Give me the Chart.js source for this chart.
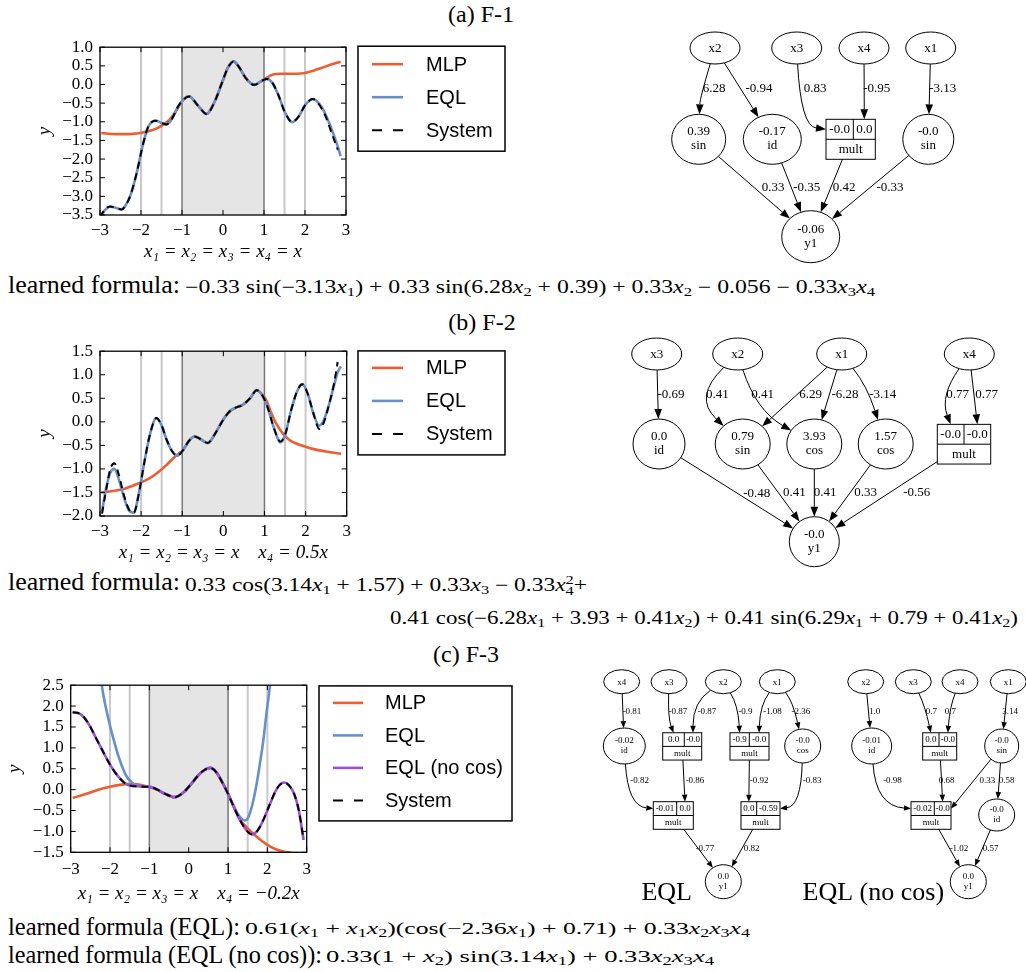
<!DOCTYPE html>
<html lang="en">
<head>
<meta charset="UTF-8">
<title>EQL vs MLP extrapolation</title>
<script src="https://cdn.jsdelivr.net/npm/chart.js"></script>
<style>
  body { margin: 0; background: #fff; }
  #page { position: relative; width: 1026px; height: 972px; overflow: hidden; font-family: 'Liberation Serif', 'Times New Roman', serif; color: #000; }
  #page canvas { position: absolute; }
  .txt { position: absolute; line-height: 1; white-space: nowrap; font-family: 'Liberation Serif', 'Times New Roman', serif; transform-origin: left top; }
  .cap { font-size: 24px; width: 120px; text-align: center; }
  .lab { font-size: 25px; }
  .math { font-size: 18px; }
  .math sub { font-size: 70%; vertical-align: -0.25em; line-height: 0; }
  .ss { display: inline-block; font-size: 70%; line-height: 0.9; vertical-align: -0.35em; }
  .ss span { display: block; }
</style>
</head>
<body>
<div id="page">
  <div class="txt cap" style="left:421px; top:2px">(a) F-1</div>
  <div class="txt cap" style="left:422px; top:310px">(b) F-2</div>
  <div class="txt cap" style="left:406px; top:642px">(c) F-3</div>

  <canvas id="f1" width="485" height="237" style="left:30px; top:30px"></canvas>
  <canvas id="f2" width="485" height="234" style="left:30px; top:334px"></canvas>
  <canvas id="f3" width="520" height="241" style="left:0px; top:668px"></canvas>
  <canvas id="g1" width="426" height="270" style="left:600px; top:0px"></canvas>
  <canvas id="g2" width="426" height="240" style="left:600px; top:330px"></canvas>
  <canvas id="g3" width="446" height="270" style="left:580px; top:640px"></canvas>

  <div class="txt lab" data-w="172" style="left:8px; top:272px">learned formula:</div>
  <div class="txt math" data-w="690" style="left:185px; top:278px">−0.33 sin(−3.13<i>x</i><sub>1</sub>) + 0.33 sin(6.28<i>x</i><sub>2</sub> + 0.39) + 0.33<i>x</i><sub>2</sub> − 0.056 − 0.33<i>x</i><sub>3</sub><i>x</i><sub>4</sub></div>

  <div class="txt lab" data-w="172" style="left:8px; top:569px">learned formula:</div>
  <div class="txt math" data-w="402" style="left:185px; top:575px">0.33 cos(3.14<i>x</i><sub>1</sub> + 1.57) + 0.33<i>x</i><sub>3</sub> − 0.33<i>x</i><span class="ss"><span>2</span><span>4</span></span>+</div>
  <div class="txt math" data-w="628" style="left:390px; top:609px">0.41 cos(−6.28<i>x</i><sub>1</sub> + 3.93 + 0.41<i>x</i><sub>2</sub>) + 0.41 sin(6.29<i>x</i><sub>1</sub> + 0.79 + 0.41<i>x</i><sub>2</sub>)</div>

  <div class="txt lab" data-w="232" style="left:8px; top:914px">learned formula (EQL):</div>
  <div class="txt math" data-w="505" style="left:245px; top:920px; font-size:17px">0.61(<i>x</i><sub>1</sub> + <i>x</i><sub>1</sub><i>x</i><sub>2</sub>)(cos(−2.36<i>x</i><sub>1</sub>) + 0.71) + 0.33<i>x</i><sub>2</sub><i>x</i><sub>3</sub><i>x</i><sub>4</sub></div>
  <div class="txt lab" data-w="314" style="left:8px; top:942px">learned formula (EQL (no cos)):</div>
  <div class="txt math" data-w="388" style="left:326px; top:948px; font-size:17px">0.33(1 + <i>x</i><sub>2</sub>) sin(3.14<i>x</i><sub>1</sub>) + 0.33<i>x</i><sub>2</sub><i>x</i><sub>3</sub><i>x</i><sub>4</sub></div>
</div>

<script>
// ---------- F-1 ----------
const f1SysX = [-3.0, -2.9, -2.75, -2.6, -2.48, -2.38, -2.25, -2.1, -1.95, -1.83, -1.65, -1.5, -1.38, -1.25, -1.1, -0.98, -0.83, -0.6, -0.4, -0.2, 0.0, 0.12, 0.26, 0.4, 0.55, 0.76, 0.95, 1.07, 1.2, 1.35, 1.5, 1.69, 1.85, 2.0, 2.19, 2.35, 2.5, 2.65, 2.8];
const f1SysY = [-3.56, -3.38, -3.27, -3.31, -3.35, -3.25, -2.95, -2.35, -1.6, -1.15, -0.97, -1.03, -1.07, -0.93, -0.6, -0.42, -0.32, -0.58, -0.79, -0.45, 0.12, 0.45, 0.62, 0.45, 0.18, -0.01, 0.1, 0.15, 0.05, -0.28, -0.72, -1.01, -0.85, -0.56, -0.39, -0.55, -0.85, -1.3, -1.75];
const f1EqlX = [-2.96, -2.9, -2.75, -2.6, -2.48, -2.38, -2.25, -2.1, -1.95, -1.83, -1.65, -1.5, -1.38, -1.25, -1.1, -0.98, -0.83, -0.6, -0.4, -0.2, 0.0, 0.12, 0.26, 0.4, 0.55, 0.76, 0.95, 1.07, 1.2, 1.35, 1.5, 1.69, 1.85, 2.0, 2.19, 2.35, 2.5, 2.65, 2.78, 2.87];
const f1EqlY = [-3.52, -3.4, -3.28, -3.31, -3.35, -3.25, -2.95, -2.35, -1.6, -1.15, -0.97, -1.03, -1.07, -0.93, -0.6, -0.42, -0.32, -0.58, -0.79, -0.45, 0.12, 0.45, 0.62, 0.45, 0.18, -0.01, 0.1, 0.15, 0.05, -0.28, -0.72, -1.01, -0.85, -0.56, -0.39, -0.52, -0.8, -1.2, -1.6, -1.92];
const f1MlpX = [-2.97, -2.6, -2.3, -2.05, -1.8, -1.6, -1.45, -1.3, -1.15, -1.0, -0.83, -0.6, -0.4, -0.2, 0.0, 0.12, 0.26, 0.4, 0.55, 0.76, 0.95, 1.05, 1.2, 1.4, 1.6, 1.8, 2.0, 2.2, 2.4, 2.6, 2.87];
const f1MlpY = [-1.3, -1.33, -1.33, -1.31, -1.25, -1.17, -1.07, -0.94, -0.72, -0.45, -0.32, -0.58, -0.79, -0.45, 0.12, 0.45, 0.62, 0.45, 0.18, -0.01, 0.1, 0.17, 0.26, 0.29, 0.29, 0.29, 0.31, 0.37, 0.44, 0.52, 0.61];

// ---------- F-2 ----------
const f2SysX = [-2.95, -2.85, -2.75, -2.65, -2.55, -2.42, -2.3, -2.18, -2.05, -1.92, -1.78, -1.63, -1.5, -1.38, -1.25, -1.12, -0.98, -0.85, -0.7, -0.55, -0.38, -0.2, 0.0, 0.15, 0.3, 0.47, 0.65, 0.81, 0.95, 1.08, 1.2, 1.3, 1.38, 1.5, 1.65, 1.78, 1.92, 2.05, 2.2, 2.33, 2.45, 2.58, 2.7, 2.78];
const f2SysY = [-1.95, -1.45, -1.0, -0.88, -1.1, -1.55, -1.85, -1.93, -1.5, -0.85, -0.25, 0.08, -0.08, -0.38, -0.62, -0.72, -0.6, -0.42, -0.31, -0.37, -0.45, -0.25, 0.05, 0.22, 0.3, 0.36, 0.5, 0.67, 0.56, 0.3, -0.05, -0.3, -0.42, -0.28, 0.25, 0.62, 0.8, 0.6, 0.15, -0.15, 0.0, 0.4, 0.85, 1.27];
const f2EqlX = [-2.95, -2.85, -2.75, -2.65, -2.55, -2.42, -2.3, -2.18, -2.05, -1.92, -1.78, -1.63, -1.5, -1.38, -1.25, -1.12, -0.98, -0.85, -0.7, -0.55, -0.38, -0.2, 0.0, 0.15, 0.3, 0.47, 0.65, 0.81, 0.95, 1.08, 1.2, 1.3, 1.38, 1.5, 1.65, 1.78, 1.92, 2.05, 2.2, 2.33, 2.45, 2.58, 2.7, 2.78, 2.86];
const f2EqlY = [-1.9, -1.4, -1.08, -1.0, -1.2, -1.6, -1.88, -1.93, -1.5, -0.85, -0.25, 0.08, -0.08, -0.38, -0.62, -0.72, -0.6, -0.42, -0.31, -0.37, -0.45, -0.25, 0.05, 0.22, 0.3, 0.36, 0.5, 0.67, 0.56, 0.3, -0.05, -0.3, -0.44, -0.28, 0.25, 0.62, 0.8, 0.6, 0.15, -0.08, 0.05, 0.4, 0.8, 1.05, 1.18];
const f2MlpX = [-2.97, -2.7, -2.4, -2.1, -1.8, -1.6, -1.4, -1.2, -1.05, -0.98, -0.85, -0.7, -0.55, -0.38, -0.2, 0.0, 0.15, 0.3, 0.47, 0.65, 0.81, 0.95, 1.05, 1.15, 1.3, 1.45, 1.6, 1.8, 2.0, 2.2, 2.5, 2.86];
const f2MlpY = [-1.5, -1.47, -1.42, -1.32, -1.2, -1.08, -0.93, -0.76, -0.65, -0.6, -0.42, -0.31, -0.37, -0.45, -0.25, 0.05, 0.22, 0.3, 0.36, 0.5, 0.67, 0.58, 0.45, 0.22, -0.06, -0.25, -0.38, -0.47, -0.53, -0.58, -0.63, -0.68];

// ---------- F-3 ----------
const f3SysX = [-2.95, -2.8, -2.65, -2.5, -2.35, -2.2, -2.05, -1.9, -1.75, -1.6, -1.45, -1.3, -1.1, -0.95, -0.8, -0.6, -0.35, -0.15, 0.05, 0.25, 0.4, 0.55, 0.7, 0.85, 1.0, 1.15, 1.3, 1.45, 1.6, 1.75, 1.9, 2.05, 2.2, 2.32, 2.43, 2.55, 2.68, 2.8, 2.92];
const f3SysY = [1.85, 1.83, 1.72, 1.5, 1.22, 0.95, 0.68, 0.45, 0.27, 0.14, 0.09, 0.08, 0.07, 0.06, 0.0, -0.1, -0.18, -0.08, 0.12, 0.35, 0.47, 0.52, 0.42, 0.18, -0.1, -0.42, -0.72, -0.95, -1.07, -0.98, -0.72, -0.38, -0.05, 0.12, 0.17, 0.1, -0.1, -0.5, -1.2];
const f3NoCosX = [-2.95, -2.8, -2.65, -2.5, -2.35, -2.2, -2.05, -1.9, -1.75, -1.6, -1.45, -1.3, -1.1, -0.95, -0.8, -0.6, -0.35, -0.15, 0.05, 0.25, 0.4, 0.55, 0.7, 0.85, 1.0, 1.15, 1.3, 1.45, 1.6, 1.75, 1.9, 2.05, 2.2, 2.32, 2.43, 2.55, 2.68, 2.8, 2.92];
const f3NoCosY = [1.85, 1.83, 1.72, 1.5, 1.22, 0.95, 0.68, 0.45, 0.27, 0.14, 0.09, 0.08, 0.07, 0.06, 0.0, -0.1, -0.18, -0.08, 0.12, 0.35, 0.47, 0.52, 0.42, 0.18, -0.1, -0.42, -0.72, -0.95, -1.07, -0.98, -0.72, -0.38, -0.05, 0.12, 0.17, 0.1, -0.1, -0.5, -1.2];
const f3EqlX = [-2.26, -2.21, -2.08, -1.92, -1.75, -1.58, -1.41, -1.25, -1.1, -0.95, -0.8, -0.6, -0.35, -0.15, 0.05, 0.25, 0.4, 0.55, 0.7, 0.85, 1.0, 1.15, 1.25, 1.35, 1.43, 1.52, 1.62, 1.72, 1.81, 1.9, 1.98, 2.07, 2.12];
const f3EqlY = [2.9, 2.5, 1.85, 1.24, 0.7, 0.32, 0.14, 0.09, 0.07, 0.06, 0.0, -0.1, -0.18, -0.08, 0.12, 0.35, 0.47, 0.52, 0.42, 0.18, -0.1, -0.4, -0.58, -0.7, -0.74, -0.65, -0.35, 0.1, 0.62, 1.2, 1.85, 2.5, 2.9];
const f3MlpX = [-2.95, -2.6, -2.3, -2.0, -1.7, -1.45, -1.3, -1.15, -1.0, -0.8, -0.6, -0.35, -0.15, 0.05, 0.25, 0.4, 0.55, 0.7, 0.85, 1.0, 1.15, 1.3, 1.45, 1.6, 1.8, 2.0, 2.2, 2.4, 2.6, 2.92];
const f3MlpY = [-0.2, -0.1, 0.0, 0.07, 0.12, 0.14, 0.13, 0.1, 0.06, 0.0, -0.1, -0.18, -0.08, 0.12, 0.35, 0.47, 0.52, 0.42, 0.18, -0.1, -0.42, -0.72, -0.88, -1.02, -1.18, -1.32, -1.42, -1.48, -1.51, -1.53];

// vertical guide lines (training domain is [-1, 1])
const lightLines = [-2, -1.5, 1.5, 2];
const domainEdges = [-1, 1];

const SERIF = "'Liberation Serif', serif";
const SANS = "'Liberation Sans', sans-serif";
const MLP_C = '#ee5c30', EQL_C = '#6790cb', NOCOS_C = '#9a50d8';

Chart.defaults.font.family = SERIF;
Chart.defaults.color = '#000';

function pts(xs, ys) { return xs.map((x, i) => ({ x: x, y: ys[i] })); }
function fmt(v, d) {
  const s = Math.abs(v) < 1e-9 ? (0).toFixed(d) : v.toFixed(d);
  return s.replace('-', '\u2212');
}
function seg(ctx, x1, y1, x2, y2) { ctx.beginPath(); ctx.moveTo(x1, y1); ctx.lineTo(x2, y2); ctx.stroke(); }

// band, guide lines, frame, inward ticks and boxed legend
function panelPlugin(lg) {
  return {
    id: 'panel',
    beforeDatasetsDraw(chart) {
      const { ctx, chartArea: a, scales: { x } } = chart;
      ctx.save();
      const l = x.getPixelForValue(-1), r = x.getPixelForValue(1);
      ctx.fillStyle = '#e5e5e5';
      ctx.fillRect(l, a.top, r - l, a.bottom - a.top);
      ctx.strokeStyle = '#c8c8c8'; ctx.lineWidth = 2;
      lightLines.forEach(v => { const p = x.getPixelForValue(v); seg(ctx, p, a.top, p, a.bottom); });
      ctx.strokeStyle = '#777'; ctx.lineWidth = 1.5;
      domainEdges.forEach(v => { const p = x.getPixelForValue(v); seg(ctx, p, a.top, p, a.bottom); });
      ctx.restore();
    },
    afterDatasetsDraw(chart) {
      const { ctx, chartArea: a, scales: { x, y } } = chart;
      ctx.save();
      ctx.strokeStyle = '#000'; ctx.lineWidth = 1;
      x.ticks.forEach(t => { const p = x.getPixelForValue(t.value); seg(ctx, p, a.bottom, p, a.bottom - 5); seg(ctx, p, a.top, p, a.top + 5); });
      y.ticks.forEach(t => { const p = y.getPixelForValue(t.value); seg(ctx, a.left, p, a.left + 5, p); seg(ctx, a.right, p, a.right - 5, p); });
      ctx.lineWidth = 1.3;
      ctx.strokeRect(a.left, a.top, a.right - a.left, a.bottom - a.top);
      ctx.restore();
    },
    afterDraw(chart) {
      const { ctx, chartArea: a } = chart;
      const bx = a.right + lg.dx, by = a.top + lg.dy;
      ctx.save();
      ctx.strokeStyle = '#000'; ctx.lineWidth = 1.5;
      ctx.strokeRect(bx, by, lg.w, lg.h);
      ctx.font = '20px ' + SANS; ctx.textBaseline = 'middle'; ctx.textAlign = 'left';
      chart.data.datasets.forEach((ds, i) => {
        const yy = by + lg.rowTop + i * lg.rowStep;
        ctx.strokeStyle = ds.borderColor; ctx.lineWidth = ds.borderWidth;
        ctx.setLineDash(ds.borderDash.length ? [10, 11] : []);
        seg(ctx, bx + lg.lineX, yy, bx + lg.lineX + lg.lineLen, yy);
        ctx.setLineDash([]);
        ctx.fillStyle = '#000';
        ctx.fillText(ds.label, bx + lg.textX, yy + 1);
      });
      ctx.restore();
    }
  };
}

function curvePanel(id, cfg) {
  const n = cfg.series.length;
  return new Chart(document.getElementById(id), {
    type: 'line',
    data: {
      datasets: cfg.series.map((s, i) => ({
        label: s.label,
        data: pts(s.xs, s.ys),
        borderColor: s.color,
        borderWidth: s.width,
        borderDash: s.dash || [],
        pointRadius: 0,
        cubicInterpolationMode: 'monotone',
        clip: 0,
        order: n - i
      }))
    },
    options: {
      responsive: false,
      animation: false,
      events: [],
      layout: { padding: cfg.pad },
      plugins: { legend: { display: false }, tooltip: { enabled: false } },
      scales: {
        x: {
          type: 'linear', min: -3, max: 3,
          ticks: { stepSize: 1, padding: cfg.xPad, font: { size: 17 }, maxRotation: 0, autoSkip: false, callback: v => fmt(v, 0) },
          grid: { display: false, drawTicks: false },
          border: { display: false },
          title: { display: true, text: cfg.xTitle, font: { size: 19, style: 'italic' }, padding: { top: 4, bottom: 4 } },
          afterFit: s => { s.height = cfg.xH; }
        },
        y: {
          type: 'linear', min: cfg.yMin, max: cfg.yMax,
          ticks: { stepSize: 0.5, padding: 7, font: { size: 17 }, autoSkip: false, callback: v => fmt(v, 1) },
          grid: { display: false, drawTicks: false },
          border: { display: false },
          title: { display: true, text: 'y', font: { size: 19, style: 'italic' }, padding: { top: 4, bottom: 4 } },
          afterFit: s => { s.width = cfg.yW; }
        }
      }
    },
    plugins: [panelPlugin(cfg.legend)]
  });
}

const sysDash = [7, 5];

curvePanel('f1', {
  series: [
    { label: 'MLP', xs: f1MlpX, ys: f1MlpY, color: MLP_C, width: 2.6 },
    { label: 'EQL', xs: f1EqlX, ys: f1EqlY, color: EQL_C, width: 2.6 },
    { label: 'System', xs: f1SysX, ys: f1SysY, color: '#000', width: 2, dash: sysDash }
  ],
  yMin: -3.5, yMax: 1.0,
  xTitle: 'x\u2081 = x\u2082 = x\u2083 = x\u2084 = x',
  pad: { top: 10, right: 169, left: 0, bottom: 0 }, yW: 70, xH: 52, xPad: 5,
  legend: { dx: 12, dy: -1, w: 147, h: 105, rowTop: 18, rowStep: 33, lineX: 14, lineLen: 31, textX: 68 }
});

curvePanel('f2', {
  series: [
    { label: 'MLP', xs: f2MlpX, ys: f2MlpY, color: MLP_C, width: 2.6 },
    { label: 'EQL', xs: f2EqlX, ys: f2EqlY, color: EQL_C, width: 2.6 },
    { label: 'System', xs: f2SysX, ys: f2SysY, color: '#000', width: 2, dash: sysDash }
  ],
  yMin: -2.0, yMax: 1.5,
  xTitle: 'x\u2081 = x\u2082 = x\u2083 = x    x\u2084 = 0.5x',
  pad: { top: 10.3, right: 168.3, left: 0, bottom: 0 }, yW: 70, xH: 52, xPad: 5,
  legend: { dx: 11.3, dy: -0.3, w: 147, h: 104, rowTop: 17, rowStep: 33, lineX: 14, lineLen: 31, textX: 68 }
});

curvePanel('f3', {
  series: [
    { label: 'MLP', xs: f3MlpX, ys: f3MlpY, color: MLP_C, width: 2.6 },
    { label: 'EQL', xs: f3EqlX, ys: f3EqlY, color: EQL_C, width: 2.6 },
    { label: 'EQL (no cos)', xs: f3NoCosX, ys: f3NoCosY, color: NOCOS_C, width: 2.6 },
    { label: 'System', xs: f3SysX, ys: f3SysY, color: '#000', width: 2, dash: sysDash }
  ],
  yMin: -1.5, yMax: 2.5,
  xTitle: 'x\u2081 = x\u2082 = x\u2083 = x    x\u2084 = \u22120.2x',
  pad: { top: 10.3, right: 213.3, left: 0, bottom: 0 }, yW: 70.7, xH: 56.7, xPad: 7,
  legend: { dx: 12.3, dy: 0.7, w: 193, h: 135, rowTop: 17, rowStep: 32.5, lineX: 14, lineLen: 30, textX: 66 }
});

// ---------- learned network graphs (layout units = page pixels) ----------
const graphA = {
  fs: 13, arrow: [10, 3.8],
  nodes: [
    { id: 'x2', x: 715, y: 48, rx: 25, ry: 16, top: 'x2' },
    { id: 'x3', x: 796.7, y: 48, rx: 25, ry: 16, top: 'x3' },
    { id: 'x4', x: 864, y: 48, rx: 25, ry: 16, top: 'x4' },
    { id: 'x1', x: 930.7, y: 48, rx: 25, ry: 16, top: 'x1' },
    { id: 's1', x: 698.7, y: 139.3, rx: 27, ry: 25, top: '0.39', bot: 'sin' },
    { id: 'i1', x: 772.3, y: 139.3, rx: 29, ry: 25, top: '-0.17', bot: 'id' },
    { id: 'm1', x: 850.65, y: 139.3, w: 49.3, h: 40, sx: 853.3, cells: ['-0.0', '0.0'], bot: 'mult' },
    { id: 's2', x: 928.3, y: 139.3, rx: 25.5, ry: 25, top: '-0.0', bot: 'sin' },
    { id: 'o', x: 810.7, y: 236.7, rx: 29, ry: 26, top: '-0.06', bot: 'y1' }
  ],
  edges: [
    { f: 'x2', t: 's1', w: '6.28', lx: 714, ly: 89, c: [700, 98] },
    { f: 'x2', t: 'i1', w: '-0.94', lx: 759, ly: 89 },
    { f: 'x3', t: 'm1', w: '0.83', lx: 815, ly: 89, port: 'W', c: [801, 126] },
    { f: 'x4', t: 'm1', w: '-0.95', lx: 876.7, ly: 89, port: 'r' },
    { f: 'x1', t: 's2', w: '-3.13', lx: 942.7, ly: 89 },
    { f: 's1', t: 'o', w: '0.33', lx: 773, ly: 187.7 },
    { f: 'i1', t: 'o', w: '-0.35', lx: 806.7, ly: 188 },
    { f: 'm1', t: 'o', w: '0.42', lx: 844, ly: 188 },
    { f: 's2', t: 'o', w: '-0.33', lx: 890, ly: 188 }
  ],
  captions: []
};

const graphB = {
  fs: 13, arrow: [10, 3.8],
  nodes: [
    { id: 'x3', x: 656.7, y: 354, rx: 25, ry: 16, top: 'x3' },
    { id: 'x2', x: 737.7, y: 354, rx: 25, ry: 16, top: 'x2' },
    { id: 'x1', x: 841.7, y: 354, rx: 25, ry: 16, top: 'x1' },
    { id: 'x4', x: 969.3, y: 354, rx: 25, ry: 16, top: 'x4' },
    { id: 'i2', x: 659, y: 444, rx: 26, ry: 25, top: '0.0', bot: 'id' },
    { id: 's3', x: 742.7, y: 444, rx: 27.5, ry: 25, top: '0.79', bot: 'sin' },
    { id: 'c1', x: 814.3, y: 444, rx: 27.5, ry: 25, top: '3.93', bot: 'cos' },
    { id: 'c2', x: 885.7, y: 444, rx: 27.5, ry: 25, top: '1.57', bot: 'cos' },
    { id: 'm2', x: 964, y: 444.2, w: 53.4, h: 39.7, sx: 964, cells: ['-0.0', '-0.0'], bot: 'mult' },
    { id: 'o', x: 814.3, y: 541.7, rx: 25, ry: 25, top: '-0.0', bot: 'y1' }
  ],
  edges: [
    { f: 'x3', t: 'i2', w: '-0.69', lx: 671, ly: 395 },
    { f: 'x2', t: 's3', w: '0.41', lx: 717.3, ly: 395, c: [693, 397] },
    { f: 'x2', t: 'c1', w: '0.41', lx: 762.7, ly: 395, c: [756, 410] },
    { f: 'x1', t: 's3', w: '6.29', lx: 810.7, ly: 395 },
    { f: 'x1', t: 'c1', w: '-6.28', lx: 845, ly: 395 },
    { f: 'x1', t: 'c2', w: '-3.14', lx: 882.7, ly: 395, c: [867, 386] },
    { f: 'x4', t: 'm2', w: '0.77', lx: 957.7, ly: 395, port: 'l', c: [940, 396] },
    { f: 'x4', t: 'm2', w: '0.77', lx: 986.7, ly: 395, port: 'r' },
    { f: 'i2', t: 'o', w: '-0.48', lx: 756.7, ly: 493.3 },
    { f: 's3', t: 'o', w: '0.41', lx: 794.3, ly: 493 },
    { f: 'c1', t: 'o', w: '0.41', lx: 825, ly: 493 },
    { f: 'c2', t: 'o', w: '0.33', lx: 865.7, ly: 493 },
    { f: 'm2', t: 'o', w: '-0.56', lx: 916.7, ly: 493 }
  ],
  captions: []
};

const graphC = {
  fs: 9, arrow: [7, 2.8],
  nodes: [
    { id: 'ax4', x: 621.7, y: 681.7, rx: 18, ry: 12, top: 'x4' },
    { id: 'ax3', x: 669, y: 681.7, rx: 18, ry: 12, top: 'x3' },
    { id: 'ax2', x: 723.3, y: 681.7, rx: 18, ry: 12, top: 'x2' },
    { id: 'ax1', x: 777.3, y: 681.7, rx: 18, ry: 12, top: 'x1' },
    { id: 'aid', x: 624.3, y: 746, rx: 21, ry: 18, top: '-0.02', bot: 'id' },
    { id: 'amA', x: 682.2, y: 746.4, w: 39, h: 27.3, sx: 684.3, cells: ['0.0', '-0.0'], bot: 'mult' },
    { id: 'amB', x: 749.5, y: 746.4, w: 39, h: 27.3, sx: 749.3, cells: ['-0.9', '-0.0'], bot: 'mult' },
    { id: 'acos', x: 802.7, y: 746, rx: 18, ry: 17, top: '-0.0', bot: 'cos' },
    { id: 'amC', x: 673.3, y: 815.5, w: 40, h: 27.6, sx: 676.7, cells: ['-0.01', '0.0'], bot: 'mult' },
    { id: 'amD', x: 760.5, y: 815.5, w: 39, h: 27.6, sx: 756.7, cells: ['0.0', '-0.59'], bot: 'mult' },
    { id: 'ay', x: 723.3, y: 881.7, rx: 18, ry: 17, top: '0.0', bot: 'y1' },
    { id: 'bx2', x: 865.7, y: 681.7, rx: 18, ry: 12, top: 'x2' },
    { id: 'bx3', x: 913.3, y: 681.7, rx: 18, ry: 12, top: 'x3' },
    { id: 'bx4', x: 960, y: 681.7, rx: 18, ry: 12, top: 'x4' },
    { id: 'bx1', x: 1008.3, y: 681.7, rx: 18, ry: 12, top: 'x1' },
    { id: 'bid', x: 871.7, y: 746, rx: 20, ry: 18, top: '-0.01', bot: 'id' },
    { id: 'bmE', x: 939.7, y: 746.4, w: 34, h: 27.3, sx: 939, cells: ['0.0', '-0.0'], bot: 'mult' },
    { id: 'bsin', x: 1001.7, y: 746, rx: 17, ry: 17, top: '-0.0', bot: 'sin' },
    { id: 'bmF', x: 931, y: 815.5, w: 40, h: 27.6, sx: 934.3, cells: ['-0.02', '-0.0'], bot: 'mult' },
    { id: 'bid2', x: 996.7, y: 815, rx: 18, ry: 16, top: '-0.0', bot: 'id' },
    { id: 'by', x: 968.3, y: 881.7, rx: 18, ry: 17, top: '0.0', bot: 'y1' }
  ],
  edges: [
    { f: 'ax4', t: 'aid', w: '-0.81', lx: 632, ly: 711.7 },
    { f: 'ax3', t: 'amA', w: '-0.87', lx: 678, ly: 711.7, port: 'l', c: [668, 718] },
    { f: 'ax2', t: 'amA', w: '-0.87', lx: 707, ly: 711.7, port: 'r', c: [693, 702] },
    { f: 'ax2', t: 'amB', w: '-0.9', lx: 745.5, ly: 711.7, port: 'l', c: [738, 705] },
    { f: 'ax1', t: 'amB', w: '-1.08', lx: 772.5, ly: 711.7, port: 'r', c: [760, 705] },
    { f: 'ax1', t: 'acos', w: '-2.36', lx: 800.8, ly: 711.7, c: [793, 702] },
    { f: 'aid', t: 'amC', w: '-0.82', lx: 639.7, ly: 781, port: 'W', c: [628, 806] },
    { f: 'amA', t: 'amC', w: '-0.86', lx: 695, ly: 781, port: 'r' },
    { f: 'amB', t: 'amD', w: '-0.92', lx: 759.2, ly: 781, port: 'l' },
    { f: 'acos', t: 'amD', w: '-0.83', lx: 812.2, ly: 781, port: 'E', c: [801, 806] },
    { f: 'amC', t: 'ay', w: '-0.77', lx: 705, ly: 849 },
    { f: 'amD', t: 'ay', w: '0.82', lx: 751.7, ly: 849 },
    { f: 'bx2', t: 'bid', w: '1.0', lx: 874.7, ly: 711.7 },
    { f: 'bx3', t: 'bmE', w: '0.7', lx: 931.3, ly: 711.7, port: 'l', c: [925, 706] },
    { f: 'bx4', t: 'bmE', w: '0.7', lx: 950.3, ly: 711.7, port: 'r', c: [950, 706] },
    { f: 'bx1', t: 'bsin', w: '3.14', lx: 1010, ly: 711.7 },
    { f: 'bid', t: 'bmF', w: '-0.98', lx: 892.5, ly: 781, port: 'W', c: [876, 806] },
    { f: 'bmE', t: 'bmF', w: '0.68', lx: 946.7, ly: 781, port: 'r' },
    { f: 'bsin', t: 'bmF', w: '0.33', lx: 987.3, ly: 781, port: 'E' },
    { f: 'bsin', t: 'bid2', w: '0.58', lx: 1006.7, ly: 781 },
    { f: 'bmF', t: 'by', w: '-1.02', lx: 959, ly: 849 },
    { f: 'bid2', t: 'by', w: '0.57', lx: 990.7, ly: 849 }
  ],
  captions: [
    { text: 'EQL', x: 666.7, y: 900 },
    { text: 'EQL (no cos)', x: 873.3, y: 900 }
  ]
};

function boundary(n, tx, ty) {
  const dx = tx - n.x, dy = ty - n.y;
  if (n.w) {
    const kx = dx === 0 ? Infinity : (n.w / 2) / Math.abs(dx);
    const ky = dy === 0 ? Infinity : (n.h / 2) / Math.abs(dy);
    const k = Math.min(kx, ky);
    return [n.x + dx * k, n.y + dy * k];
  }
  const k = 1 / Math.sqrt((dx / n.rx) ** 2 + (dy / n.ry) ** 2);
  return [n.x + dx * k, n.y + dy * k];
}

function portPoint(n, port) {
  const x0 = n.x - n.w / 2, x1 = n.x + n.w / 2, y0 = n.y - n.h / 2;
  if (port === 'l') return [(x0 + n.sx) / 2, y0];
  if (port === 'r') return [(n.sx + x1) / 2, y0];
  if (port === 'W') return [x0, y0 + n.h / 4];
  return [x1, y0 + n.h / 4];
}

function graphPlugin(g) {
  return {
    id: 'graph',
    afterDatasetsDraw(chart) {
      const { ctx, scales: { x, y } } = chart;
      const P = (u, v) => [x.getPixelForValue(u), y.getPixelForValue(v)];
      const byId = {};
      g.nodes.forEach(n => { byId[n.id] = n; });
      ctx.save();
      ctx.strokeStyle = '#000'; ctx.fillStyle = '#000'; ctx.lineWidth = 1;
      ctx.textAlign = 'center'; ctx.textBaseline = 'middle';
      ctx.font = g.fs + 'px ' + SERIF;

      g.nodes.forEach(n => {
        const [cx, cy] = P(n.x, n.y);
        if (n.w) {
          const [x0, y0] = P(n.x - n.w / 2, n.y - n.h / 2);
          const [x1, y1] = P(n.x + n.w / 2, n.y + n.h / 2);
          const sx = P(n.sx, n.y)[0];
          ctx.strokeRect(x0, y0, x1 - x0, y1 - y0);
          seg(ctx, x0, cy, x1, cy);
          seg(ctx, sx, y0, sx, cy);
          ctx.fillText(n.cells[0], (x0 + sx) / 2, (y0 + cy) / 2 + 0.5);
          ctx.fillText(n.cells[1], (sx + x1) / 2, (y0 + cy) / 2 + 0.5);
          ctx.fillText(n.bot, cx, (cy + y1) / 2 + 0.5);
        } else {
          const rx = Math.abs(P(n.x + n.rx, n.y)[0] - cx), ry = Math.abs(P(n.x, n.y + n.ry)[1] - cy);
          ctx.beginPath(); ctx.ellipse(cx, cy, rx, ry, 0, 0, Math.PI * 2); ctx.stroke();
          if (n.bot) {
            ctx.fillText(n.top, cx, cy - 0.56 * g.fs);
            ctx.fillText(n.bot, cx, cy + 0.52 * g.fs);
          } else {
            ctx.fillText(n.top, cx, cy + 0.5);
          }
        }
      });

      const [al, aw] = g.arrow;
      g.edges.forEach(e => {
        const a = byId[e.f], b = byId[e.t];
        const end = e.port ? portPoint(b, e.port) : boundary(b, e.c ? e.c[0] : a.x, e.c ? e.c[1] : a.y);
        const start = boundary(a, e.c ? e.c[0] : end[0], e.c ? e.c[1] : end[1]);
        const S = P(start[0], start[1]), E = P(end[0], end[1]);
        const C = e.c ? P(e.c[0], e.c[1]) : null;
        const from = C || S;
        const d = Math.hypot(E[0] - from[0], E[1] - from[1]);
        const ux = (E[0] - from[0]) / d, uy = (E[1] - from[1]) / d;
        const bx = E[0] - ux * al, by = E[1] - uy * al;
        ctx.beginPath(); ctx.moveTo(S[0], S[1]);
        if (C) ctx.quadraticCurveTo(C[0], C[1], bx, by); else ctx.lineTo(bx, by);
        ctx.stroke();
        ctx.beginPath();
        ctx.moveTo(E[0], E[1]);
        ctx.lineTo(bx - uy * aw, by + ux * aw);
        ctx.lineTo(bx + uy * aw, by - ux * aw);
        ctx.closePath(); ctx.fill();
        const L = P(e.lx, e.ly);
        ctx.fillText(e.w, L[0], L[1]);
      });

      ctx.font = '26px ' + SERIF; ctx.textBaseline = 'alphabetic';
      g.captions.forEach(c => { const p = P(c.x, c.y); ctx.fillText(c.text, p[0], p[1]); });
      ctx.restore();
    }
  };
}

function graphPanel(id, g, left, top) {
  const cv = document.getElementById(id);
  return new Chart(cv, {
    type: 'scatter',
    data: { datasets: [{ data: g.nodes.map(n => ({ x: n.x, y: n.y })), pointRadius: 0, showLine: false }] },
    options: {
      responsive: false, animation: false, events: [],
      layout: { padding: 0 },
      plugins: { legend: { display: false }, tooltip: { enabled: false } },
      scales: {
        x: { type: 'linear', display: false, min: left, max: left + cv.width },
        y: { type: 'linear', display: false, min: top, max: top + cv.height, reverse: true }
      }
    },
    plugins: [graphPlugin(g)]
  });
}

graphPanel('g1', graphA, 600, 0);
graphPanel('g2', graphB, 600, 330);
graphPanel('g3', graphC, 580, 640);

// stretch each text line to the width it takes in the figure
document.querySelectorAll('[data-w]').forEach(el => {
  const w = el.getBoundingClientRect().width;
  el.style.transform = 'scaleX(' + (el.dataset.w / w) + ')';
});
</script>
</body>
</html>
